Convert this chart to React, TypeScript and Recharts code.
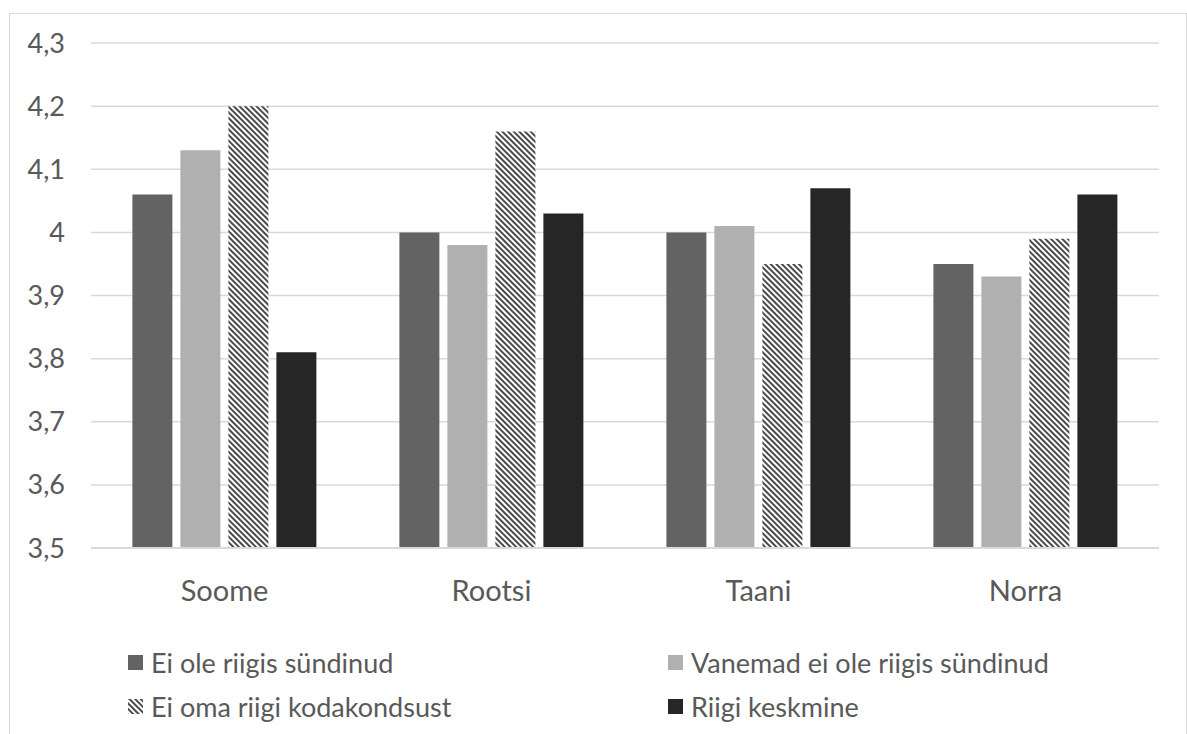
import React from 'react';
import { BarChart, Bar, XAxis, YAxis, CartesianGrid, Legend } from 'recharts';

const countries = ['Soome', 'Rootsi', 'Taani', 'Norra'];
const notBornHere = [4.06, 4.0, 4.0, 3.95];
const parentsNotBorn = [4.13, 3.98, 4.01, 3.93];
const noCitizenship = [4.2, 4.16, 3.95, 3.99];
const countryAverage = [3.81, 4.03, 4.07, 4.06];
const yTicks = [3.5, 3.6, 3.7, 3.8, 3.9, 4.0, 4.1, 4.2, 4.3];

const seriesNames = [
  'Ei ole riigis sündinud',
  'Vanemad ei ole riigis sündinud',
  'Ei oma riigi kodakondsust',
  'Riigi keskmine',
];

const data = countries.map((c, i) => ({
  name: c,
  a: notBornHere[i],
  b: parentsNotBorn[i],
  c: noCitizenship[i],
  d: countryAverage[i],
}));

const FONT = 'Lato, "Open Sans", sans-serif';
const TEXT = '#595959';

const fmt = (v: number) => String(Math.round(v * 10) / 10).replace('.', ',');

const legendItems = [
  { label: seriesNames[0], fill: '#636363' },
  { label: seriesNames[1], fill: '#b0b0b0' },
  { label: seriesNames[2], fill: 'url(#stripes)' },
  { label: seriesNames[3], fill: '#262626' },
];

const LegendBox = () => (
  <div
    style={{
      display: 'grid',
      gridTemplateColumns: '540px 500px',
      rowGap: 13,
      paddingLeft: 118,
      paddingTop: 23,
      fontFamily: FONT,
      fontSize: 27,
      color: TEXT,
    }}
  >
    {legendItems.map((it) => (
      <div key={it.label} style={{ display: 'flex', alignItems: 'center', height: 31 }}>
        <svg width={15} height={15} style={{ marginRight: 8 }}>
          <rect width={15} height={15} fill={it.fill} />
        </svg>
        <span>{it.label}</span>
      </div>
    ))}
  </div>
);

export default function App() {
  return (
    <div
      style={{
        position: 'absolute',
        left: 9,
        top: 13,
        width: 1176,
        height: 740,
        border: '1px solid #d9d9d9',
        background: '#fff',
      }}
    >
      <BarChart
        width={1176}
        height={720}
        data={data}
        margin={{ top: 29, right: 27, bottom: 0, left: 0 }}
        barCategoryGap="15.5%"
        barGap={8}
      >
        <defs>
          <pattern
            id="stripes"
            patternUnits="userSpaceOnUse"
            width={4}
            height={4}
            patternTransform="rotate(-45)"
          >
            <rect width={4} height={4} fill="#ffffff" />
            <rect width={2} height={4} fill="#4a4a4a" />
          </pattern>
        </defs>
        <CartesianGrid vertical={false} stroke="#d9d9d9" strokeWidth={1.5} />
        <XAxis
          dataKey="name"
          axisLine={{ stroke: '#d9d9d9', strokeWidth: 2 }}
          tickLine={false}
          height={76}
          tickMargin={26}
          tick={{ fill: TEXT, fontSize: 29, fontFamily: FONT }}
        />
        <YAxis
          domain={[3.5, 4.3]}
          ticks={yTicks}
          width={81}
          axisLine={false}
          tickLine={false}
          tickMargin={20}
          tickFormatter={fmt}
          tick={{ fill: TEXT, fontSize: 27, fontFamily: FONT }}
          interval={0}
        />
        <Legend verticalAlign="bottom" height={110} content={() => <LegendBox />} />
        <Bar dataKey="a" name={seriesNames[0]} fill="#636363" isAnimationActive={false} />
        <Bar dataKey="b" name={seriesNames[1]} fill="#b0b0b0" isAnimationActive={false} />
        <Bar dataKey="c" name={seriesNames[2]} fill="url(#stripes)" isAnimationActive={false} />
        <Bar dataKey="d" name={seriesNames[3]} fill="#262626" isAnimationActive={false} />
      </BarChart>
    </div>
  );
}
